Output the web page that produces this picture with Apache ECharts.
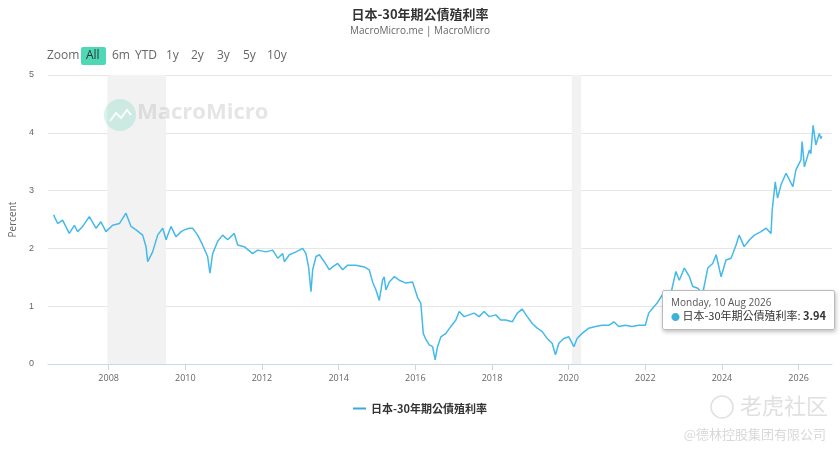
<!DOCTYPE html>
<html><head><meta charset="utf-8">
<script src="https://cdn.jsdelivr.net/npm/echarts@6/dist/echarts.min.js"></script>
<style>html,body{margin:0;padding:0;background:#fff}#c{width:840px;height:456px}</style>
</head><body><div id="c"></div>
<script>
const seriesName = '日本-30年期公債殖利率';
const dates = ['2006-07-25','2006-09-02','2006-10-19','2006-12-22','2007-02-08','2007-03-11','2007-04-28','2007-07-01','2007-09-02','2007-10-19','2007-12-06','2008-02-08','2008-04-12','2008-06-14','2008-08-01','2008-09-18','2008-11-20','2008-12-22','2009-01-07','2009-02-23','2009-04-12','2009-05-30','2009-07-01','2009-08-17','2009-10-04','2009-11-21','2009-12-22','2010-02-08','2010-03-11','2010-04-28','2010-06-14','2010-08-01','2010-08-23','2010-09-18','2010-11-04','2010-12-22','2011-02-08','2011-04-12','2011-05-14','2011-07-16','2011-10-04','2011-11-21','2012-02-08','2012-04-12','2012-05-30','2012-07-16','2012-08-01','2012-09-18','2012-11-20','2013-01-23','2013-02-23','2013-03-20','2013-04-12','2013-04-28','2013-05-30','2013-07-01','2013-08-17','2013-10-04','2013-11-04','2013-12-22','2014-02-08','2014-03-27','2014-06-14','2014-09-02','2014-10-19','2014-11-20','2014-12-22','2015-01-23','2015-02-23','2015-03-11','2015-03-27','2015-04-28','2015-06-14','2015-08-01','2015-10-04','2015-12-06','2016-01-23','2016-02-23','2016-03-17','2016-04-12','2016-05-13','2016-06-14','2016-07-08','2016-07-31','2016-09-01','2016-10-19','2016-12-05','2017-01-22','2017-02-22','2017-04-11','2017-05-28','2017-07-15','2017-08-31','2017-10-18','2017-12-04','2018-02-06','2018-03-25','2018-05-11','2018-07-13','2018-08-30','2018-10-16','2018-12-03','2019-01-20','2019-03-08','2019-04-25','2019-06-11','2019-07-28','2019-08-29','2019-09-30','2019-11-16','2020-01-03','2020-02-20','2020-03-22','2020-05-09','2020-07-11','2020-09-13','2020-11-15','2021-01-18','2021-03-07','2021-04-23','2021-06-25','2021-08-28','2021-10-30','2022-01-01','2022-02-02','2022-03-10','2022-04-22','2022-07-01','2022-09-02','2022-10-19','2022-11-21','2023-01-08','2023-02-25','2023-03-29','2023-05-16','2023-07-02','2023-08-19','2023-10-05','2023-11-07','2023-12-24','2024-02-09','2024-03-28','2024-05-15','2024-06-13','2024-07-31','2024-09-20','2024-11-06','2025-01-08','2025-02-25','2025-04-13','2025-04-24','2025-05-23','2025-06-14','2025-07-17','2025-09-03','2025-11-07','2025-12-06','2026-01-23','2026-02-03','2026-02-25','2026-04-13','2026-04-27','2026-05-19','2026-06-14','2026-07-17','2026-07-31','2026-08-10'];
const values = [2.58,2.43,2.49,2.26,2.40,2.29,2.38,2.55,2.35,2.46,2.29,2.40,2.43,2.61,2.38,2.32,2.23,2.03,1.77,1.94,2.23,2.35,2.15,2.38,2.20,2.29,2.32,2.35,2.35,2.23,2.06,1.86,1.57,1.91,2.12,2.23,2.15,2.26,2.06,2.03,1.91,1.97,1.94,1.97,1.83,1.91,1.77,1.89,1.94,2.00,1.91,1.68,1.25,1.63,1.86,1.89,1.77,1.63,1.68,1.74,1.63,1.71,1.71,1.68,1.63,1.42,1.28,1.10,1.45,1.51,1.28,1.42,1.51,1.45,1.40,1.42,1.15,1.05,0.53,0.42,0.33,0.30,0.07,0.30,0.47,0.53,0.65,0.76,0.91,0.82,0.85,0.88,0.82,0.91,0.82,0.85,0.76,0.76,0.73,0.88,0.95,0.82,0.70,0.62,0.56,0.44,0.36,0.16,0.36,0.44,0.47,0.30,0.44,0.53,0.62,0.65,0.67,0.67,0.73,0.65,0.67,0.65,0.67,0.67,0.88,0.96,1.05,1.25,1.22,1.60,1.45,1.66,1.51,1.34,1.31,1.22,1.66,1.74,1.89,1.51,1.80,1.83,2.06,2.23,2.03,2.15,2.23,2.29,2.35,2.26,2.66,3.15,2.87,3.10,3.30,3.07,3.36,3.53,3.85,3.41,3.70,3.64,4.13,3.79,3.99,3.90,3.94];
const shadedRanges = [['2007-12-20','2009-06-30'],['2020-02-01','2020-04-30']];
const yTicks = [0,1,2,3,4,5];
const xTickYears = [2008,2010,2012,2014,2016,2018,2020,2022,2024,2026];
const xRange = ['2006-06-01','2026-11-15'];
const zoomButtons = ['Zoom','All','6m','YTD','1y','2y','3y','5y','10y'];

const ts = (d)=>Date.parse(d+'T00:00:00Z');
const chart = echarts.init(document.getElementById('c'));
const data = dates.map((d,i)=>[ts(d), values[i]]);
const tickVals = xTickYears.map(y=>Date.UTC(y,0,1));
const btnX = [47,81,112,135,166,191,217,243,267];
const graphics = [];
zoomButtons.forEach((b,i)=>{
  if (b==='All') graphics.push({type:'rect',left:btnX[i],top:47,shape:{width:25,height:18,r:2},style:{fill:'#4fd8b6'}});
  graphics.push({type:'text',left:btnX[i]+(b==='All'?5:0),top:50,style:{text:b,fill:b==='All'?'#333':'#666',font:'12px "Open Sans", sans-serif'}});
});
graphics.push({type:'circle',z:100,shape:{cx:120,cy:115,r:16},style:{fill:'rgba(120,215,190,0.3)'}});
graphics.push({type:'polyline',z:101,shape:{points:[[110,121],[116,113],[121,118],[127,110],[131,115]]},style:{stroke:'rgba(255,255,255,0.9)',lineWidth:2,fill:null}});
graphics.push({type:'text',z:100,left:137,top:102,style:{text:'MacroMicro',fill:'rgba(180,180,180,0.35)',font:'bold 22px "Open Sans", sans-serif'}});
graphics.push({type:'circle',shape:{cx:722,cy:407,r:11},style:{fill:null,stroke:'#e0e0e0',lineWidth:1.5}});
graphics.push({type:'text',left:740,top:395,style:{text:'老虎社区',fill:'#e0e0e0',font:'22px "Noto Sans CJK SC", sans-serif'}});
graphics.push({type:'text',right:14,top:428,style:{text:'@德林控股集团有限公司',fill:'#d8d8d8',font:'13px "Noto Sans CJK SC", sans-serif'}});

chart.setOption({
  animation:false,
  title:{text:seriesName,subtext:'MacroMicro.me | MacroMicro',left:'center',top:3,itemGap:5,
    textStyle:{fontSize:13,fontWeight:'bold',color:'#333',fontFamily:'"Noto Sans CJK TC", sans-serif'},
    subtextStyle:{fontSize:10,color:'#666',fontFamily:'"Open Sans", sans-serif'}},
  graphic:graphics,
  grid:{left:47,right:8,top:75,bottom:92},
  legend:{bottom:37,left:'center',icon:'rect',itemWidth:13,itemHeight:2,
    textStyle:{fontSize:11,fontWeight:'bold',color:'#333',fontFamily:'"Noto Sans CJK TC", sans-serif'}},
  tooltip:{trigger:'axis',alwaysShowContent:true,axisPointer:{type:'none'},position:[662,290],
    backgroundColor:'rgba(255,255,255,0.96)',borderColor:'#bbb',borderWidth:1,padding:[5,8],
    extraCssText:'box-shadow:1px 2px 4px rgba(0,0,0,0.25);border-radius:2px;',
    formatter:(p)=>{const d=new Date(p[0].value[0]);const days=['Sunday','Monday','Tuesday','Wednesday','Thursday','Friday','Saturday'];const mons=['Jan','Feb','Mar','Apr','May','Jun','Jul','Aug','Sep','Oct','Nov','Dec'];
      return '<div style="font:10px \'Open Sans\',sans-serif;color:#555;line-height:12px">'+days[d.getUTCDay()]+', '+d.getUTCDate()+' '+mons[d.getUTCMonth()]+' '+d.getUTCFullYear()+'</div>'+
      '<div style="font:11px \'Noto Sans CJK TC\',sans-serif;color:#333;line-height:15px"><span style="color:#3fb0d6;font-size:9px">●</span> '+p[0].seriesName+': <b>'+p[0].value[1].toFixed(2)+'</b></div>';}},
  xAxis:{type:'value',min:ts(xRange[0]),max:ts(xRange[1]),
    axisLine:{lineStyle:{color:'#ccd6eb'}},
    axisTick:{customValues:tickVals,lineStyle:{color:'#ccd6eb'},length:6},
    splitLine:{show:false},
    axisLabel:{color:'#666',fontSize:9,fontFamily:'"Open Sans", sans-serif',margin:10,customValues:tickVals,
      formatter:(v)=>String(new Date(v).getUTCFullYear())}},
  yAxis:{type:'value',min:yTicks[0],max:yTicks[yTicks.length-1],interval:1,name:'Percent',nameLocation:'middle',nameGap:24,
    nameTextStyle:{color:'#666',fontSize:10,fontFamily:'"Open Sans", sans-serif'},
    axisLabel:{color:'#666',fontSize:9,margin:14},axisLine:{show:false},axisTick:{show:false},
    splitLine:{lineStyle:{color:'#e6e6e6'}}},
  series:[{name:seriesName,type:'line',data:data,symbol:'none',
    lineStyle:{color:'#3fa9d5',width:1.5},itemStyle:{color:'#3fa9d5'},
    markArea:{silent:true,itemStyle:{color:'#f2f2f2'},data:shadedRanges.map(r=>[{xAxis:ts(r[0])},{xAxis:ts(r[1])}])}}]
});
chart.dispatchAction({type:'showTip',seriesIndex:0,dataIndex:values.length-1});
</script></body></html>
